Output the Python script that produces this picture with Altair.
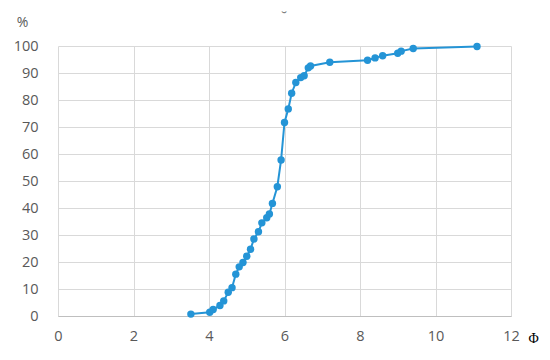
import altair as alt
import pandas as pd

phi = [3.52, 4.02, 4.11, 4.29, 4.39, 4.51, 4.61, 4.71, 4.80, 4.90, 5.00, 5.10,
       5.19, 5.31, 5.40, 5.53, 5.60, 5.68, 5.81, 5.91, 6.00, 6.10, 6.19, 6.30,
       6.43, 6.52, 6.63, 6.69, 7.20, 8.20, 8.40, 8.60, 9.00, 9.09, 9.41, 11.10]
pct = [0.7, 1.4, 2.4, 3.9, 5.6, 8.8, 10.5, 15.5, 18.2, 19.8, 22.1, 24.7,
       28.5, 31.2, 34.5, 36.4, 37.8, 41.7, 47.9, 57.8, 71.7, 76.7, 82.5, 86.5,
       88.3, 89.0, 91.9, 92.6, 94.0, 94.7, 95.6, 96.4, 97.3, 98.1, 99.1, 99.8]
x_ticks = [0, 2, 4, 6, 8, 10, 12]
y_ticks = [0, 10, 20, 30, 40, 50, 60, 70, 80, 90, 100]
title_text = ["˘"]

df = pd.DataFrame({"phi": phi, "pct": pct, "order": list(range(len(phi)))})
tdf = pd.DataFrame({"t": title_text})

color = "#2494d6"
label_font = "Open Sans"

x_enc = alt.X("phi:Q", scale=alt.Scale(domain=[0, 12], nice=False),
              axis=alt.Axis(values=x_ticks, title="Φ", titleAngle=0,
                            titleX=470, titleY=22, titleAlign="left",
                            titleBaseline="middle",
                            titleFont="Liberation Serif", titleFontSize=14,
                            titleFontWeight="normal", titleColor="#000000",
                            labelFont=label_font, labelFontSize=14.5,
                            labelColor="#595959", labelPadding=13,
                            labelFlush=False,
                            ticks=False, domainColor="#bfbfbf",
                            gridColor="#d9d9d9"))
y_enc = alt.Y("pct:Q", scale=alt.Scale(domain=[0, 100], nice=False),
              axis=alt.Axis(values=y_ticks, title="%", titleAngle=0,
                            titleX=-36, titleY=-24, titleAlign="center",
                            titleBaseline="middle",
                            titleFont=label_font, titleFontSize=14,
                            titleFontWeight="normal", titleColor="#595959",
                            labelFont=label_font, labelFontSize=14.5,
                            labelColor="#595959", labelPadding=20,
                            labelFlush=False,
                            ticks=False, domain=False,
                            gridColor="#d9d9d9"))

base = alt.Chart(df).encode(x=x_enc, y=y_enc, order="order:Q")
line = base.mark_line(color=color, strokeWidth=2)
pts = base.mark_circle(color=color, size=55, opacity=1)

title_mark = alt.Chart(tdf).mark_text(
    fontSize=16, color="#808080", font=label_font, align="center",
    baseline="middle"
).encode(text="t:N", x=alt.value(226), y=alt.value(-28))

chart = (line + pts + title_mark).properties(
    width=453, height=270,
    autosize=alt.AutoSizeParams(type="none"),
    padding={"left": 50, "top": 38, "right": 31, "bottom": 36},
).configure_view(stroke=None)

chart.save("out.html", embed_options={"renderer": "svg", "actions": False})
